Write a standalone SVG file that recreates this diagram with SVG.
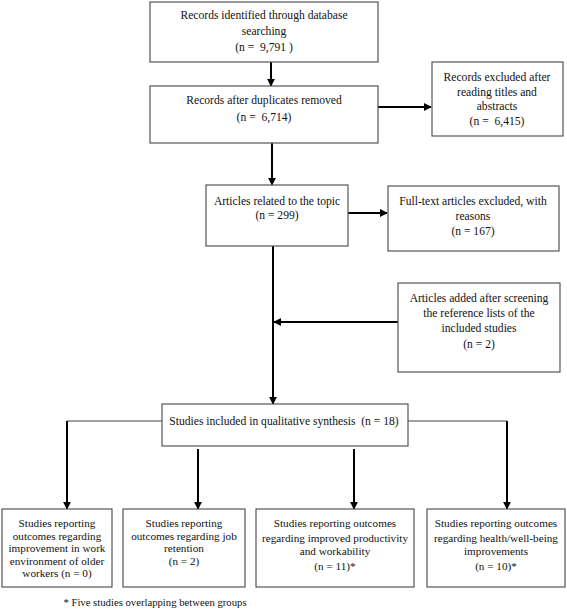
<svg xmlns="http://www.w3.org/2000/svg" width="567" height="609" viewBox="0 0 567 609">
<style>
.box{fill:#fff;stroke:#555;stroke-width:1.2}
text{font-family:"Liberation Serif","Times New Roman",serif;font-size:11.6px;fill:#111;text-anchor:middle;white-space:pre}
.sm{font-size:11.2px}
.fn{font-size:10.7px}
.ar{stroke:#000;stroke-width:2;fill:none;marker-end:url(#ah)}
.ln{stroke:#000;stroke-width:2;fill:none}
.th{stroke:#444;stroke-width:1.2;fill:none}
</style>
<defs>
<marker id="ah" viewBox="0 0 10 10" refX="9" refY="5" markerWidth="4" markerHeight="4" orient="auto" markerUnits="strokeWidth">
<path d="M0,0 L10,5 L0,10 z" fill="#000"/>
</marker>
</defs>
<g id="connectors">
<line class="ar" x1="271" y1="62" x2="271" y2="86"/>
<line class="ar" x1="378" y1="107" x2="431" y2="107"/>
<line class="ar" x1="272" y1="143" x2="272" y2="185"/>
<line class="ar" x1="348" y1="213" x2="387" y2="213"/>
<line class="ln" x1="273" y1="246" x2="273" y2="380"/>
<line class="ar" x1="273" y1="380" x2="273" y2="404"/>
<line class="ar" x1="398" y1="322" x2="274" y2="322"/>
<polyline class="th" points="162,421 67,421"/>
<polyline class="th" points="408,421 507,421"/>
<line class="ar" x1="67" y1="421" x2="67" y2="509"/>
<line class="ar" x1="507" y1="421" x2="507" y2="509"/>
<line class="ar" x1="198" y1="449" x2="198" y2="509"/>
<line class="ar" x1="354" y1="449" x2="354" y2="509"/>
</g>
<g id="n1"><rect class="box" x="150" y="2" width="228" height="60"/>
<text x="264" y="19">Records identified through database</text><text x="264" y="35">searching</text><text x="264" y="51">(n =  9,791 )</text></g>
<g id="n2"><rect class="box" x="150" y="86" width="228" height="57"/>
<text x="264" y="104">Records after duplicates removed</text><text x="264" y="121">(n =  6,714)</text></g>
<g id="n3"><rect class="box" x="432" y="62" width="131" height="74"/>
<text x="497" y="81">Records excluded after</text><text x="497" y="96">reading titles and</text><text x="497" y="110">abstracts</text><text x="497" y="125">(n =  6,415)</text></g>
<g id="n4"><rect class="box" x="206" y="185" width="142" height="61"/>
<text x="277" y="205">Articles related to the topic</text><text x="277" y="219">(n = 299)</text></g>
<g id="n5"><rect class="box" x="388" y="186" width="171" height="65"/>
<text x="473" y="205">Full-text articles excluded, with</text><text x="473" y="220">reasons</text><text x="473" y="235">(n = 167)</text></g>
<g id="n6"><rect class="box" x="398" y="283" width="162" height="89"/>
<text x="479" y="302">Articles added after screening</text><text x="479" y="317">the reference lists of the</text><text x="479" y="332">included studies</text><text x="479" y="348">(n = 2)</text></g>
<g id="n7"><rect class="box" x="162" y="404" width="246" height="42"/>
<text x="284" y="425">Studies included in qualitative synthesis  (n = 18)</text></g>
<g id="n8"><rect class="box" x="2" y="509" width="110" height="78"/>
<text class="sm" x="57" y="527">Studies reporting</text><text class="sm" x="57" y="539.5">outcomes regarding</text><text class="sm" x="57" y="552">improvement in work</text><text class="sm" x="57" y="564.5">environment of older</text><text class="sm" x="57" y="577">workers (n = 0)</text></g>
<g id="n9"><rect class="box" x="123" y="509" width="122" height="78"/>
<text class="sm" x="184" y="527">Studies reporting</text><text class="sm" x="184" y="539.5">outcomes regarding job</text><text class="sm" x="184" y="552">retention</text><text class="sm" x="184" y="565">(n = 2)</text></g>
<g id="n10"><rect class="box" x="256" y="509" width="158" height="78"/>
<text class="sm" x="335" y="527">Studies reporting outcomes</text><text class="sm" x="335" y="541.5">regarding improved productivity</text><text class="sm" x="335" y="555">and workability</text><text class="sm" x="335" y="570">(n = 11)*</text></g>
<g id="n11"><rect class="box" x="427" y="509" width="138" height="78"/>
<text class="sm" x="496" y="527">Studies reporting outcomes</text><text class="sm" x="496" y="541.5">regarding health/well-being</text><text class="sm" x="496" y="555">improvements</text><text class="sm" x="496" y="570">(n = 10)*</text></g>
<text class="fn" x="155" y="606">* Five studies overlapping between groups</text>
</svg>
